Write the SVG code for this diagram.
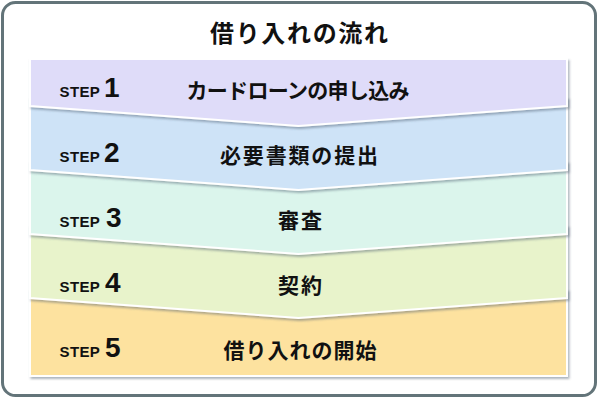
<svg xmlns="http://www.w3.org/2000/svg" width="600" height="400" viewBox="0 0 600 400">
<defs>
<filter id="sh" x="-5%" y="-10%" width="110%" height="130%">
<feDropShadow dx="1.5" dy="2" stdDeviation="1" flood-color="#4a5a70" flood-opacity="0.45"/>
</filter>
<style>
.band{stroke:#ffffff;stroke-width:2;stroke-linejoin:miter;filter:url(#sh)}
.stp{font-family:"Liberation Sans",Arial,sans-serif;font-weight:bold;font-size:15px;fill:#111;text-anchor:end;letter-spacing:0.3px}
.num{font-family:"Liberation Sans",Arial,sans-serif;font-weight:bold;font-size:28px;fill:#111}
.lbl{font-family:"Noto Sans CJK JP","Noto Sans",sans-serif;font-weight:bold;font-size:21px;fill:#111;text-anchor:middle}
.ttl{font-family:"Noto Sans CJK JP","Noto Sans",sans-serif;font-weight:bold;font-size:24px;fill:#111;text-anchor:middle}
</style>
</defs>
<rect x="0" y="0" width="600" height="400" fill="#ffffff"/>
<rect id="frame" x="2.5" y="2.5" width="593" height="393" rx="13" ry="13" fill="#ffffff" stroke="#637479" stroke-width="3"/>
<g id="title"><text class="ttl" x="299" y="42" textLength="178" lengthAdjust="spacing">借り入れの流れ</text></g>
<g id="step5">
<polygon class="band" points="30,290 567,290 567,376 30,376" fill="#fde29f"/>
<text class="stp" x="100" y="357">STEP</text><text class="num" x="105" y="357">5</text>
<text class="lbl" x="300" y="358" textLength="153" lengthAdjust="spacing">借り入れの開始</text>
</g>
<g id="step4">
<polygon class="band" points="30,226 567,226 567,298 298.5,318 30,298" fill="#e8f3cb"/>
<text class="stp" x="100" y="292">STEP</text><text class="num" x="105" y="292">4</text>
<text class="lbl" x="300" y="293" textLength="44" lengthAdjust="spacing">契約</text>
</g>
<g id="step3">
<polygon class="band" points="30,162 567,162 567,234 298.5,254 30,234" fill="#dbf5ec"/>
<text class="stp" x="100" y="227">STEP</text><text class="num" x="106" y="227">3</text>
<text class="lbl" x="300" y="228" textLength="44" lengthAdjust="spacing">審査</text>
</g>
<g id="step2">
<polygon class="band" points="30,98 567,98 567,170 298.5,190 30,170" fill="#cee3f7"/>
<text class="stp" x="100" y="162">STEP</text><text class="num" x="104" y="162">2</text>
<text class="lbl" x="299" y="163" textLength="158" lengthAdjust="spacing">必要書類の提出</text>
</g>
<g id="step1">
<polygon class="band" points="30,59 567,59 567,106 298.5,126 30,106" fill="#dfdcf9"/>
<text class="stp" x="100" y="97">STEP</text><text class="num" x="104" y="97">1</text>
<text class="lbl" x="298" y="98" textLength="223" lengthAdjust="spacing">カードローンの申し込み</text>
</g>
</svg>
